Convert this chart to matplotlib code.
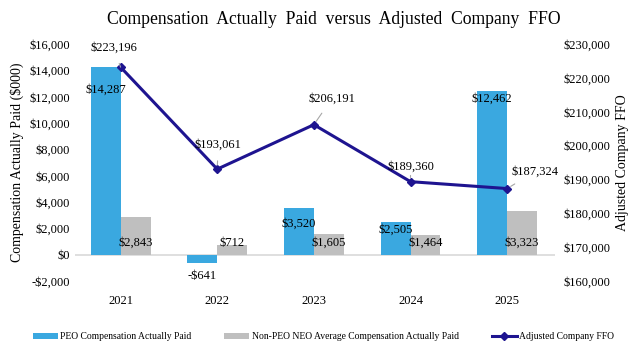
import numpy as np
import matplotlib
matplotlib.use("Agg")
import matplotlib.pyplot as plt

# chart data
years = ["2021", "2022", "2023", "2024", "2025"]
peo_cap = [14287, -641, 3520, 2505, 12462]
neo_cap = [2843, 712, 1605, 1464, 3323]
ffo = [223196, 193061, 206191, 189360, 187324]

# label offsets in pixels (label placement only)
peo_off = [(0, -23), (0, -13), (0, -15), (0, -8), (0, -8)]
ffo_off = [(-7, 19), (1, 24), (18, 26), (0, 15), (28, 17)]

blue = "#3AA8E0"
grey = "#BFBFBF"
navy = "#1E1490"

plt.rcParams['font.family'] = ['Liberation Serif', 'DejaVu Serif']

fig = plt.figure(figsize=(6.37, 3.5), dpi=100)
ax = fig.add_axes([0.118, 0.197, 0.754, 0.677])
ax2 = ax.twinx()

x = np.arange(len(years))
w = 0.31
ax.bar(x - w / 2, peo_cap, w, color=blue, label="PEO Compensation Actually Paid", zorder=2)
ax.bar(x + w / 2, neo_cap, w, color=grey, label="Non-PEO NEO Average Compensation Actually Paid", zorder=2)
ax.axhline(0, color="#D9D9D9", lw=1.2, zorder=1)

ax.set_ylim(-2000, 16000)
ax.set_yticks(np.arange(-2000, 16001, 2000))
ax.set_yticklabels([("-$" if v < 0 else "$") + f"{abs(v):,}" for v in range(-2000, 16001, 2000)])
ax.set_xlim(-0.47, 4.5)
ax.set_xticks(x)
ax.set_xticklabels(years)
ax.tick_params(axis="both", length=0, labelsize=9)
ax.tick_params(axis="x", pad=10)
ax.set_ylabel("Compensation Actually Paid ($000)", fontsize=10, labelpad=4)

for s in ax.spines.values():
    s.set_visible(False)
for s in ax2.spines.values():
    s.set_visible(False)

# bar labels
for i, v in enumerate(peo_cap):
    txt = ("-$" if v < 0 else "$") + f"{abs(v):,}"
    if v < 0:
        ax.annotate(txt, (x[i] - w / 2, v), xytext=(0, -13), textcoords="offset pixels",
                    ha="center", va="center", fontsize=9)
    else:
        ax.annotate(txt, (x[i] - w / 2, v), xytext=peo_off[i], textcoords="offset pixels",
                    ha="center", va="center", fontsize=9)
for i, v in enumerate(neo_cap):
    ax.annotate(f"${v:,}", (x[i] + w / 2, 0), xytext=(0, 12), textcoords="offset pixels",
                ha="center", va="center", fontsize=9)

ax2.plot(x, ffo, color=navy, lw=2.2, marker="D", ms=4.5, label="Adjusted Company FFO", zorder=3)
ax2.set_ylim(160000, 230000)
ax2.set_yticks(np.arange(160000, 230001, 10000))
ax2.set_yticklabels([f"${v:,}" for v in range(160000, 230001, 10000)])
ax2.tick_params(axis="y", length=0, labelsize=9, pad=6)
ax2.set_ylabel("Adjusted Company FFO", fontsize=10, labelpad=4)

for i, v in enumerate(ffo):
    ax2.annotate(f"${v:,}", (x[i], v), xytext=ffo_off[i], textcoords="offset pixels",
                 ha="center", va="center", fontsize=9,
                 arrowprops=dict(arrowstyle="-", color="#A6A6A6", lw=0.8, shrinkA=5, shrinkB=3))

fig.suptitle("Compensation  Actually  Paid  versus  Adjusted  Company  FFO", x=0.524, y=0.968, fontsize=12.7)

h1, l1 = ax.get_legend_handles_labels()
h2, l2 = ax2.get_legend_handles_labels()
fig.legend(h1 + h2, l1 + l2, loc="lower center", bbox_to_anchor=(0.508, 0.0), ncol=3, frameon=False,
           fontsize=6.9, handlelength=2.6, handleheight=0.5, columnspacing=3.4, handletextpad=0.3)

fig.savefig("out.png", dpi=100)
